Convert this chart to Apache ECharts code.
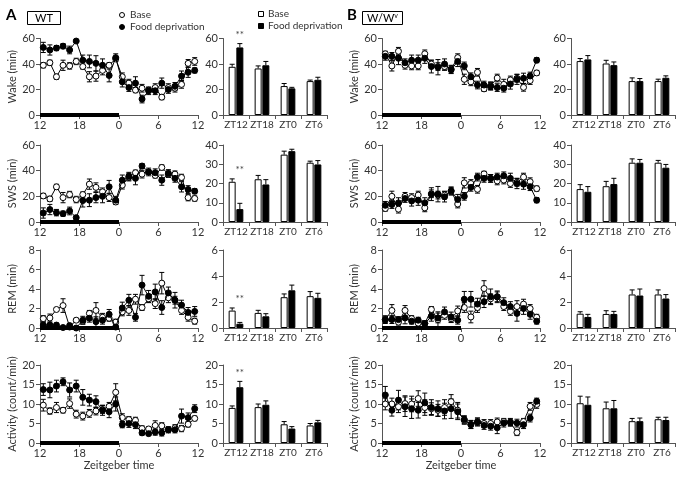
<!DOCTYPE html>
<html><head><meta charset="utf-8">
<script src="https://cdn.jsdelivr.net/npm/echarts@6/dist/echarts.min.js"></script>
<style>html,body{margin:0;padding:0;background:#fff}#c{width:683px;height:478px}</style>
</head><body><div id="c"></div><script>
// ---------- DATA ----------
// hours since ZT12 (bin centres), axis tick labels
const hourBins = [0.5,1.5,2.5,3.5,4.5,5.5,6.5,7.5,8.5,9.5,10.5,11.5,12.5,13.5,14.5,15.5,16.5,17.5,18.5,19.5,20.5,21.5,22.5,23.5];
const hourTickLabels = ['12','18','0','6','12'];
const darkPeriod = [0, 12];
const barCats = ['ZT12','ZT18','ZT0','ZT6'];

// WT line data
const wtWakeBase = [39,41,30,39,38.5,42,38,30,30.5,35,39,44,30,25,19.5,21,19.5,21.5,14,21.5,21,24,40.5,42];
const wtWakeBaseSem = [2,2,2,4,2.5,2.5,2,4,4,3.5,2,2,3,3,2,3,2,3,2,3,3,3,3,3];
const wtWakeFd = [53,51,52.5,54,51,58,43,42,40.5,39,31,45,26,21.5,25,12.5,19,19,25,20,22.5,30.5,33.5,35];
const wtWakeFdSem = [4,4,2,2,3,1,4,5,6,5,5,3,4,3,5,3,3,3,4,3,3,4,4,2];

const wtSwsBase = [20.3,18,27.4,19,21.4,17.5,21.4,29.5,27,23.5,19,15.6,28.7,35,38.4,37.3,39,36.3,42.5,37.3,37.3,34.7,19,18.3];
const wtSwsBaseSem = [2,2,2,4,2.5,2.5,2,4,3.5,3,3,2,3,3,2,3,2,2,2,2.5,2.5,2.5,2.5,2];
const wtSwsFd = [7,9.7,7.3,6.5,8.6,3.4,16.7,17,19,20,27.4,17,32.6,35.7,34,43.6,39,38.4,32.6,37.8,34,27.4,25.3,24];
const wtSwsFdSem = [4,4,2.5,2,3,1,5,5,4,5,5,3,4,3,5,2,3,3,4,3,3,4,3,2];

const wtRemBase = [0.96,1.03,1.9,2.3,0.1,0.8,0.7,1.5,1.8,1.1,1.0,0.6,1.65,1.8,2.95,2.1,3.0,2.5,4.6,3.1,2.85,1.8,1.1,0.7];
const wtRemBaseSem = [0.3,0.4,0.2,0.7,0.3,0.2,0.3,0.3,0.8,0.4,0.3,0.3,0.4,0.5,0.5,0.3,0.4,0.5,1.1,0.5,0.4,0.4,0.4,0.3];
const wtRemFd = [0.3,0.3,0.3,0.05,0.25,0,0.8,1.0,0.65,0.8,1.4,0.1,2.05,2.85,1.1,4.4,3.25,3.7,2.1,3.6,2.85,2.35,1.6,1.7];
const wtRemFdSem = [0.3,0.2,0.2,0.1,0.2,0.1,0.4,0.4,0.5,0.4,0.5,0.2,0.6,0.6,0.4,1.0,0.6,0.8,0.7,0.6,0.8,0.5,0.5,0.5];

const wtActBase = [9.7,8.2,9.1,8.4,10.1,7.4,6.9,7.6,8.2,8.6,9.4,13,6.5,6.0,5.8,3.7,3.6,4.5,4.4,3.4,3.9,3.7,4.8,6.3];
const wtActBaseSem = [1.5,0.8,1.3,0.7,1.2,1,1,1,1,1,1,2.2,1,0.8,0.8,0.7,0.6,1.2,0.8,0.6,0.8,0.8,0.7,0.6];
const wtActFd = [13.7,13.6,14.6,15.7,13.6,14.6,11.7,11,10.6,8.4,8.0,10,4.7,5.0,4.7,2.6,2.4,2.8,2.6,3.4,3.4,6.9,6.5,8.8];
const wtActFdSem = [1.5,2,1.5,1,1.8,1.5,2,1.5,1.5,1.3,1.5,1.8,0.8,1,1,0.6,0.5,0.8,0.8,0.8,0.8,1.8,1.2,1];

// W/Wv line data
const wwWakeBase = [48,38.5,50,39,38.5,38.5,48,40,38,38,36,45,28,26,33.5,20.5,23,29,24,27.5,28.8,21.7,27,33];
const wwWakeBaseSem = [2,4,3,3,3,3,3,3,3,3,3,3,4,3,3,2,3,3,4,3,3,3,3,2];
const wwWakeFd = [46,46,44.5,41,43,43,44.5,38,37.5,40,35.5,42,38.5,30,23.5,23.5,22.5,21.5,21,24.3,28,28.8,30.6,43];
const wwWakeFdSem = [3,3,5,3,4,4,4,5,6,4,3,4,3,3,3,3,3,3,3,4,4,4,3,2];

const wwSwsBase = [10.5,20,10,20,19,21,11,22,21,21,24,14,30.5,30,25.5,37.5,34,32,32.7,30,31,35,31.4,26];
const wwSwsBaseSem = [2,4,3,3,3,3,3,3,3,3,3,3,4,3,3,2,3,3,3,3,3,3,3,2];
const wwSwsFd = [13,13.6,14.9,18.3,16.4,17,14.9,21.7,21.7,19.6,24.3,17.5,20,27,35,34,34,35,36,34,30,29.5,27.5,17];
const wwSwsFdSem = [3,3,4,3,4,4,4,5,6,4,3,4,3,3,3,3,3,3,3,4,4,4,3,2];

const wwRemBase = [0.86,1.8,0.6,1.8,0.96,0.5,0.45,1.9,0.86,1.3,0.96,1.75,2.1,1.13,2.1,4.05,3.0,3.2,2.2,1.7,2.2,2.45,2.0,1.1];
const wwRemBaseSem = [0.3,0.6,0.3,0.5,0.3,0.3,0.3,0.3,0.8,0.4,0.4,0.5,0.5,0.6,0.5,0.8,0.5,0.5,0.4,0.4,0.6,0.5,0.4,0.3];
const wwRemFd = [0.86,0.86,0.86,1.03,0.7,0.8,0.45,1.2,1.03,1.65,1.13,0.8,2.95,2.95,2.45,2.7,3.2,3.2,2.6,2.2,1.5,2.0,1.4,0.7];
const wwRemFdSem = [0.4,0.4,0.3,0.6,0.3,0.3,0.3,0.5,0.5,0.5,0.5,0.4,0.8,0.8,0.6,0.6,0.8,0.6,0.5,0.5,0.8,0.6,0.5,0.3];

const wwActBase = [10,10,9.3,10.1,10,11.4,9.1,8.8,8.4,9.1,10.6,8.4,5.8,4.8,5.4,5.0,5.0,5.4,5.5,5.3,2.7,5.5,9.4,9.9];
const wwActBaseSem = [1.5,1.5,1.5,2,2,2,2,1.5,1.5,2,1.8,2,1,1,1,1,1,1,0.8,0.8,0.8,0.8,1,1];
const wwActFd = [12.3,8.4,11,9.3,8.8,8.4,10.3,9.1,8.8,8.2,8.8,8.0,6.0,4.7,5.4,4.5,4.3,3.9,5.1,5.3,5.1,4.7,6.4,10.7];
const wwActFdSem = [2.2,1.5,2.5,2.5,2.5,2,2.5,2,2,2,2.5,2,1,1,1,1,1,1.5,1,1,1,1,1,0.8];

// Bar data (ZT12, ZT18, ZT0, ZT6)
const wtWakeBarBase = [37.8,36.5,22.7,26.6];  const wtWakeBarBaseSem = [2,2,2,0.8];
const wtWakeBarFd   = [53,39,20.9,27.6];      const wtWakeBarFdSem   = [3,3,0.8,2];
const wtSwsBarBase  = [20.9,22.2,35,30.8];    const wtSwsBarBaseSem  = [1.5,2,1.8,0.8];
const wtSwsBarFd    = [6.7,19.5,36.8,29.9];   const wtSwsBarFdSem    = [3,2.5,1,2];
const wtRemBarBase  = [1.34,1.16,2.37,2.45];  const wtRemBarBaseSem  = [0.2,0.2,0.25,0.35];
const wtRemBarFd    = [0.33,0.9,2.9,2.32];    const wtRemBarFdSem    = [0.1,0.2,0.4,0.35];
const wtActBarBase  = [9,9.2,4.8,4.5];        const wtActBarBaseSem  = [0.5,0.8,0.7,0.5];
const wtActBarFd    = [14.3,9.8,3.7,5.3];     const wtActBarFdSem    = [1.5,1,0.5,0.5];
const wtSignificant = [true,false,false,false]; // ** at ZT12

const wwWakeBarBase = [42.3,40.4,26.6,26.6];  const wwWakeBarBaseSem = [2,2.5,2.5,1.5];
const wwWakeBarFd   = [43.6,39.1,26.6,29.2];  const wwWakeBarFdSem   = [3,2.5,2,1.5];
const wwSwsBarBase  = [17.1,18.6,30.8,30.8];  const wwSwsBarBaseSem  = [2.3,2.5,2,1.2];
const wwSwsBarFd    = [15.7,19.7,30.8,28.2];  const wwSwsBarFdSem    = [2.7,3,1.7,1.7];
const wwRemBarBase  = [1.1,1.08,2.58,2.58];   const wwRemBarBaseSem  = [0.15,0.25,0.35,0.35];
const wwRemBarFd    = [0.85,1.08,2.5,2.27];   const wwRemBarFdSem    = [0.2,0.2,0.5,0.3];
const wwActBarBase  = [10.2,8.9,5.6,6.1];     const wwActBarBaseSem  = [1.8,1.6,0.7,0.5];
const wwActBarFd    = [9.8,8.9,5.6,5.9];      const wwActBarFdSem    = [2,2,0.8,0.7];
const wwSignificant = [false,false,false,false];

// ---------- LAYOUT / STYLE ----------
const FONT = 'Lato, "Open Sans", sans-serif';
const TXT = '#333';
const AX = '#555';
const rows = [
  {name:'Wake (min)', lineMax:60, lineInt:20, barMax:60, barInt:20, top:38.5, h:76.5},
  {name:'SWS (min)', lineMax:60, lineInt:20, barMax:40, barInt:10, top:145, h:77},
  {name:'REM (min)', lineMax:8, lineInt:2, barMax:6, barInt:2, top:250, h:78},
  {name:'Activity (count/min)', lineMax:20, lineInt:5, barMax:20, barInt:5, top:365, h:78}
];
const cols = [
  {type:'line', left:40, width:158, geno:'wt'},
  {type:'bar', left:223, width:104, geno:'wt'},
  {type:'line', left:382, width:158, geno:'ww'},
  {type:'bar', left:571, width:104, geno:'ww'}
];
const lineData = {
  wt: [[wtWakeBase,wtWakeBaseSem,wtWakeFd,wtWakeFdSem],[wtSwsBase,wtSwsBaseSem,wtSwsFd,wtSwsFdSem],
       [wtRemBase,wtRemBaseSem,wtRemFd,wtRemFdSem],[wtActBase,wtActBaseSem,wtActFd,wtActFdSem]],
  ww: [[wwWakeBase,wwWakeBaseSem,wwWakeFd,wwWakeFdSem],[wwSwsBase,wwSwsBaseSem,wwSwsFd,wwSwsFdSem],
       [wwRemBase,wwRemBaseSem,wwRemFd,wwRemFdSem],[wwActBase,wwActBaseSem,wwActFd,wwActFdSem]]
};
const barData = {
  wt: [[wtWakeBarBase,wtWakeBarBaseSem,wtWakeBarFd,wtWakeBarFdSem],[wtSwsBarBase,wtSwsBarBaseSem,wtSwsBarFd,wtSwsBarFdSem],
       [wtRemBarBase,wtRemBarBaseSem,wtRemBarFd,wtRemBarFdSem],[wtActBarBase,wtActBarBaseSem,wtActBarFd,wtActBarFdSem]],
  ww: [[wwWakeBarBase,wwWakeBarBaseSem,wwWakeBarFd,wwWakeBarFdSem],[wwSwsBarBase,wwSwsBarBaseSem,wwSwsBarFd,wwSwsBarFdSem],
       [wwRemBarBase,wwRemBarBaseSem,wwRemBarFd,wwRemBarFdSem],[wwActBarBase,wwActBarBaseSem,wwActBarFd,wwActBarFdSem]]
};
const sigFlags = {wt: wtSignificant, ww: wwSignificant};
const BAR_W = 7, BAR_OFF = 3.85;

function lineErr(params, api) {
  const x = api.value(0), y = api.value(1), e = api.value(2);
  const c = api.coord([x, y]);
  const t = api.coord([x, y + e]);
  const b = api.coord([x, Math.max(0, y - e)]);
  const s = {stroke:'#000', lineWidth:1};
  return {type:'group', children:[
    {type:'line', shape:{x1:c[0], y1:t[1], x2:c[0], y2:b[1]}, style:s},
    {type:'line', shape:{x1:c[0]-2.5, y1:t[1], x2:c[0]+2.5, y2:t[1]}, style:s},
    {type:'line', shape:{x1:c[0]-2.5, y1:b[1], x2:c[0]+2.5, y2:b[1]}, style:s}
  ]};
}
function barErr(off) {
  return function(params, api) {
    const x = api.value(0), y = api.value(1), e = api.value(2);
    const c = api.coord([x, y]);
    const t = api.coord([x, y + e]);
    const cx = c[0] + off;
    const s = {stroke:'#000', lineWidth:1};
    return {type:'group', children:[
      {type:'line', shape:{x1:cx, y1:c[1], x2:cx, y2:t[1]}, style:s},
      {type:'line', shape:{x1:cx-2.5, y1:t[1], x2:cx+2.5, y2:t[1]}, style:s}
    ]};
  };
}
function sigRender(params, api) {
  const c = api.coord([api.value(0), api.value(1)]);
  return {type:'text', x:c[0] + BAR_OFF, y:c[1] - 4, style:{text:'**', fill:'#444', font:'10px ' + FONT, align:'center', verticalAlign:'bottom'}};
}

const grid = [], xAxis = [], yAxis = [], series = [];
rows.forEach((r, ri) => {
  cols.forEach((c, ci) => {
    const gi = grid.length;
    grid.push({left:c.left, top:r.top, width:c.width, height:r.h});
    const axLine = {show:true, lineStyle:{color:AX, width:1}};
    const tick = {show:true, length:4, lineStyle:{color:AX}};
    const lbl = {color:TXT, fontFamily:FONT, fontSize:11};
    if (c.type === 'line') {
      xAxis.push({type:'value', gridIndex:gi, min:0, max:24, interval:6,
        axisLine:axLine, axisTick:tick, splitLine:{show:false},
        axisLabel:Object.assign({margin:5, formatter:v => hourTickLabels[Math.round(v/6)]}, lbl),
        name: ri === 3 ? 'Zeitgeber time' : '', nameLocation:'middle', nameGap:17,
        nameTextStyle:{color:TXT, fontFamily:FONT, fontSize:11}});
      yAxis.push({type:'value', gridIndex:gi, min:0, max:r.lineMax, interval:r.lineInt,
        axisLine:axLine, axisTick:tick, splitLine:{show:false},
        axisLabel:Object.assign({margin:5}, lbl),
        name:r.name, nameLocation:'middle', nameGap:22, nameRotate:90,
        nameTextStyle:{color:TXT, fontFamily:FONT, fontSize:11}});
      const d = lineData[c.geno][ri];
      const mk = arr => hourBins.map((h, i) => [h, arr[i]]);
      const mkE = (arr, sem) => hourBins.map((h, i) => [h, arr[i], sem[i]]);
      series.push({type:'custom', xAxisIndex:gi, yAxisIndex:gi, renderItem:lineErr, data:mkE(d[0], d[1]), z:2, silent:true});
      series.push({type:'custom', xAxisIndex:gi, yAxisIndex:gi, renderItem:lineErr, data:mkE(d[2], d[3]), z:2, silent:true});
      series.push({type:'line', name:'Base', xAxisIndex:gi, yAxisIndex:gi, data:mk(d[0]), symbol:'circle', symbolSize:6,
        lineStyle:{color:'#000', width:1}, itemStyle:{color:'#fff', borderColor:'#000', borderWidth:1}, z:3});
      series.push({type:'line', name:'Food deprivation', xAxisIndex:gi, yAxisIndex:gi, data:mk(d[2]), symbol:'circle', symbolSize:6,
        lineStyle:{color:'#000', width:1}, itemStyle:{color:'#000', borderColor:'#000', borderWidth:1}, z:4,
        markLine:{silent:true, symbol:'none', label:{show:false}, lineStyle:{color:'#000', width:4, type:'solid'},
          data:[[{coord:[darkPeriod[0], 0]}, {coord:[darkPeriod[1], 0]}]]}});
    } else {
      xAxis.push({type:'category', gridIndex:gi, data:barCats,
        axisLine:axLine, axisTick:Object.assign({alignWithLabel:false, interval:0}, tick),
        axisLabel:Object.assign({}, lbl, {margin:5, interval:0, fontSize:10})});
      yAxis.push({type:'value', gridIndex:gi, min:0, max:r.barMax, interval:r.barInt,
        axisLine:axLine, axisTick:tick, splitLine:{show:false},
        axisLabel:Object.assign({margin:5}, lbl)});
      const d = barData[c.geno][ri];
      series.push({type:'bar', name:'Base', xAxisIndex:gi, yAxisIndex:gi, data:d[0], barWidth:BAR_W, barGap:'10%',
        itemStyle:{color:'#fff', borderColor:'#000', borderWidth:1}, z:2});
      series.push({type:'bar', name:'Food deprivation', xAxisIndex:gi, yAxisIndex:gi, data:d[2], barWidth:BAR_W, barGap:'10%',
        itemStyle:{color:'#000', borderColor:'#000', borderWidth:1}, z:2});
      series.push({type:'custom', xAxisIndex:gi, yAxisIndex:gi, renderItem:barErr(-BAR_OFF), data:d[0].map((v,i)=>[i, v, d[1][i]]), z:3, silent:true});
      series.push({type:'custom', xAxisIndex:gi, yAxisIndex:gi, renderItem:barErr(BAR_OFF), data:d[2].map((v,i)=>[i, v, d[3][i]]), z:3, silent:true});
      const sig = [];
      sigFlags[c.geno].forEach((f, i) => { if (f) sig.push([i, Math.max(d[0][i] + d[1][i], d[2][i] + d[3][i])]); });
      if (sig.length) series.push({type:'custom', xAxisIndex:gi, yAxisIndex:gi, renderItem:sigRender, data:sig, z:4, silent:true});
    }
  });
});

const LEG = '10px ' + FONT;
const graphic = [
  {type:'text', left:6, top:8, style:{text:'A', font:'bold 15px ' + FONT, fill:'#000'}},
  {type:'rect', shape:{x:27.5, y:11.5, width:33, height:13}, style:{fill:'none', stroke:'#000', lineWidth:1}},
  {type:'text', x:44, y:18, style:{text:'WT', font:'11px ' + FONT, fill:'#000', align:'center', verticalAlign:'middle'}},
  {type:'circle', shape:{cx:122, cy:15, r:2.5}, style:{fill:'#fff', stroke:'#000', lineWidth:1}},
  {type:'text', x:130, y:15, style:{text:'Base', font:LEG, fill:TXT, verticalAlign:'middle'}},
  {type:'circle', shape:{cx:122, cy:27, r:2.5}, style:{fill:'#000', stroke:'#000', lineWidth:1}},
  {type:'text', x:130, y:27, style:{text:'Food deprivation', font:LEG, fill:TXT, verticalAlign:'middle'}},
  {type:'rect', shape:{x:258.5, y:11.5, width:5, height:5}, style:{fill:'#fff', stroke:'#000', lineWidth:1}},
  {type:'text', x:268, y:14, style:{text:'Base', font:LEG, fill:TXT, verticalAlign:'middle'}},
  {type:'rect', shape:{x:258.5, y:23.5, width:5, height:5}, style:{fill:'#000', stroke:'#000', lineWidth:1}},
  {type:'text', x:268, y:26, style:{text:'Food deprivation', font:LEG, fill:TXT, verticalAlign:'middle'}},
  {type:'text', left:347, top:8, style:{text:'B', font:'bold 15px ' + FONT, fill:'#000'}},
  {type:'rect', shape:{x:362.5, y:11.5, width:40, height:13}, style:{fill:'none', stroke:'#000', lineWidth:1}},
  {type:'text', x:382.5, y:18, style:{text:'W/W{s|v}', font:'11px ' + FONT, fill:'#000', align:'center', verticalAlign:'middle',
    rich:{s:{fontSize:7, verticalAlign:'top', padding:[0,0,5,0], fontFamily:FONT, fill:'#000'}}}}
];

const chart = echarts.init(document.getElementById('c'), null, {renderer:'canvas'});
chart.setOption({animation:false, backgroundColor:'#fff', textStyle:{fontFamily:FONT}, grid, xAxis, yAxis, series, graphic});
</script></body></html>
